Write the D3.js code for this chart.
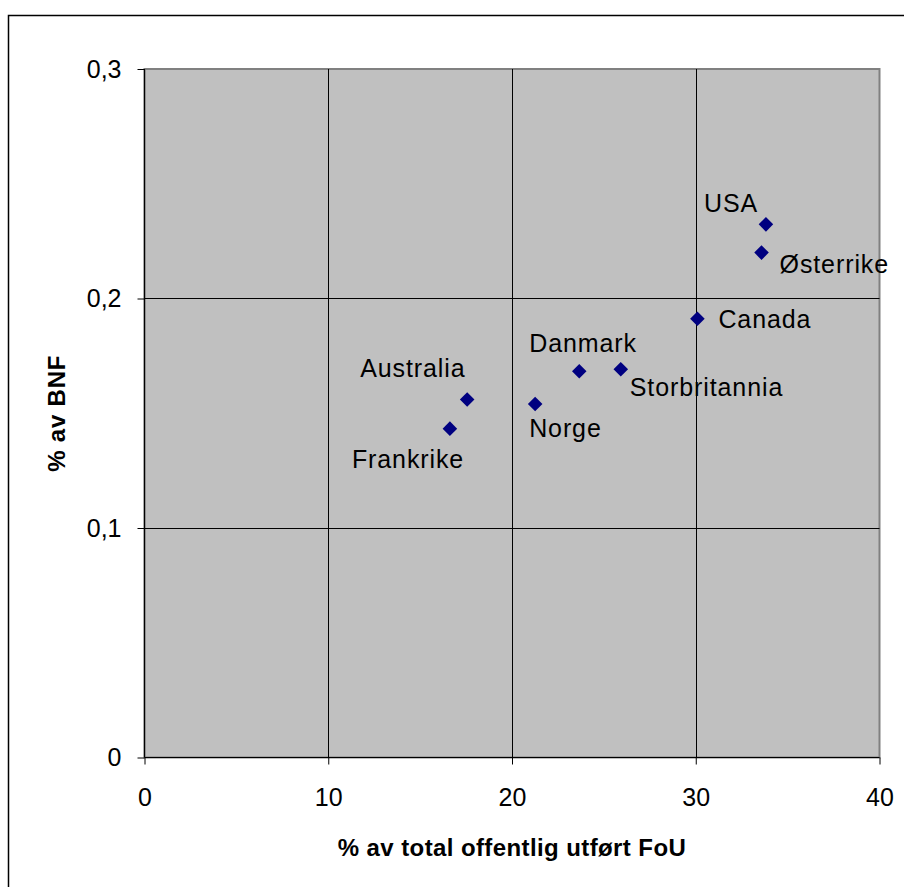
<!DOCTYPE html>
<html>
<head>
<meta charset="utf-8">
<script src="https://cdn.jsdelivr.net/npm/d3@7/dist/d3.min.js"></script>
<style>
  html, body { margin: 0; padding: 0; background: #fff; }
  svg { display: block; }
  text { font-family: "Liberation Sans", Arial, sans-serif; }
</style>
</head>
<body>
<svg id="chart" width="904" height="887"></svg>
<script>
// Public R&D: share of total public R&D performed (x) vs. share of GDP (y)
const countries = ["USA", "Østerrike", "Canada", "Storbritannia", "Danmark", "Norge", "Australia", "Frankrike"];
const shareOfPublicRD = [33.82, 33.58, 30.09, 25.92, 23.66, 21.26, 17.56, 16.62];
const shareOfGDP = [0.2323, 0.2200, 0.1912, 0.1692, 0.1683, 0.1540, 0.1560, 0.1433];

const xTicks = [0, 10, 20, 30, 40];
const yTicks = [0, 0.1, 0.2, 0.3];
const xTitle = "% av total offentlig utført FoU";
const yTitle = "% av BNF";

// Where each country's label sits relative to its marker
const labelPlacement = {
  "USA":           { dx: -62,  dy: -12 },
  "Østerrike":     { dx: 18,   dy: 20 },
  "Canada":        { dx: 21,   dy: 9 },
  "Storbritannia": { dx: 9,    dy: 27 },
  "Danmark":       { dx: -50,  dy: -19 },
  "Norge":         { dx: -6,   dy: 33 },
  "Australia":     { dx: -107, dy: -22 },
  "Frankrike":     { dx: -98,  dy: 39 }
};

const svg = d3.select("#chart");
const plot = { left: 144.5, top: 69, right: 879.5, bottom: 757.5 };

const x = d3.scaleLinear().domain([0, 40]).range([plot.left, plot.right]);
const y = d3.scaleLinear().domain([0, 0.3]).range([plot.bottom, plot.top]);
const fmtY = v => d3.format(".1f")(v).replace(".", ",").replace(/^0,0$/, "0");

// Outer chart frame
svg.append("rect")
  .attr("x", 8.5).attr("y", 15.5)
  .attr("width", 1000).attr("height", 1000)
  .attr("fill", "#fff").attr("stroke", "#000").attr("stroke-width", 1.5);

// Plot background
svg.append("rect")
  .attr("x", plot.left).attr("y", plot.top)
  .attr("width", plot.right - plot.left).attr("height", plot.bottom - plot.top)
  .attr("fill", "#c0c0c0").attr("stroke", "#808080").attr("stroke-width", 2);

// Gridlines
const grid = svg.append("g").attr("stroke", "#000").attr("stroke-width", 1);
grid.selectAll(".gx").data(xTicks.slice(1, -1)).join("line")
  .attr("x1", d => Math.round(x(d)) + 0.5).attr("x2", d => Math.round(x(d)) + 0.5)
  .attr("y1", plot.top).attr("y2", plot.bottom);
grid.selectAll(".gy").data(yTicks.slice(1, -1)).join("line")
  .attr("y1", d => Math.round(y(d)) + 0.5).attr("y2", d => Math.round(y(d)) + 0.5)
  .attr("x1", plot.left).attr("x2", plot.right);

// Axes
const xAxis = d3.axisBottom(x).tickValues(xTicks).tickSize(7).tickPadding(24).tickFormat(d3.format("d"));
const yAxis = d3.axisLeft(y).tickValues(yTicks).tickSize(7).tickPadding(16).tickFormat(fmtY);

const gx = svg.append("g").attr("transform", `translate(0,${plot.bottom})`).call(xAxis);
const gy = svg.append("g").attr("transform", `translate(${plot.left},0)`).call(yAxis);
[gx, gy].forEach(g => {
  g.select(".domain").attr("stroke", "#000").attr("stroke-width", 1.2);
  g.selectAll(".tick line").attr("stroke", "#000");
  g.selectAll(".tick text")
    .attr("fill", "#000")
    .style("font-family", "'Liberation Sans', Arial, sans-serif")
    .style("font-size", "25px");
});
gx.select(".domain").attr("d", `M${plot.left},0H${plot.right}`);
gy.select(".domain").attr("d", `M0,${plot.bottom}V${plot.top}`);

// Axis titles
svg.append("text")
  .attr("x", (plot.left + plot.right) / 2).attr("y", 856)
  .attr("text-anchor", "middle")
  .style("font-size", "24px").style("font-weight", "bold").style("letter-spacing", "0.4px")
  .text(xTitle);
svg.append("text")
  .attr("transform", `translate(65,${(plot.top + plot.bottom) / 2}) rotate(-90)`)
  .attr("text-anchor", "middle")
  .style("font-size", "24px").style("font-weight", "bold").style("letter-spacing", "0.8px")
  .text(yTitle);

// Markers and labels
const points = countries.map((c, i) => ({ name: c, vx: shareOfPublicRD[i], vy: shareOfGDP[i] }));
const diamond = d3.symbol().type(d3.symbolDiamond2).size(135);

svg.append("g").selectAll("path").data(points).join("path")
  .attr("d", diamond)
  .attr("transform", d => `translate(${x(d.vx)},${y(d.vy)})`)
  .attr("fill", "#000080");

svg.append("g").selectAll("text").data(points).join("text")
  .attr("x", d => x(d.vx) + labelPlacement[d.name].dx)
  .attr("y", d => y(d.vy) + labelPlacement[d.name].dy)
  .attr("text-anchor", "start")
  .style("font-size", "25px")
  .style("letter-spacing", "0.9px")
  .attr("fill", "#000")
  .text(d => d.name);
</script>
</body>
</html>
